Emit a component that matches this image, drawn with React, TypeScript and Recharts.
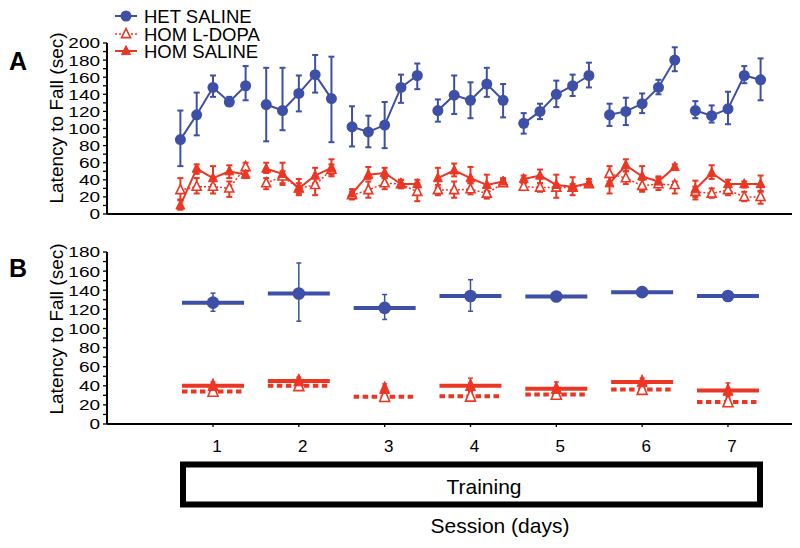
import React from 'react';
import { ComposedChart, Line, XAxis, YAxis, ErrorBar } from 'recharts';

const BLUE = '#3d4fa6';
const RED = '#ec3624';
const FONT = '"Liberation Sans", Arial, Helvetica, sans-serif';

const DAYS = [1, 2, 3, 4, 5, 6, 7];
const TRIALS = [1, 2, 3, 4, 5];
const TRIAL_STEP = 0.19;
const X_DOMAIN = [-0.235, 7.746];

// Panel A: latency per trial, 5 trials for each of the 7 days
const HET_MEAN = [
  87, 116, 148, 131, 150,
  128, 121, 141, 163, 135,
  102, 96, 104, 148, 162,
  121, 139, 133, 152, 133,
  106, 120, 140, 150, 162,
  116, 120, 129, 148, 180,
  121, 115, 123, 162, 157,
];
const HET_LO = [
  56, 92, 137, 127, 133,
  85, 98, 120, 142, 84,
  79, 78, 77, 130, 146,
  108, 117, 112, 137, 113,
  94, 111, 125, 138, 148,
  103, 104, 118, 140, 167,
  112, 107, 105, 153, 133,
];
const HET_HI = [
  121, 142, 162, 137, 173,
  171, 171, 162, 186, 184,
  126, 115, 131, 163, 176,
  134, 162, 154, 171, 152,
  118, 129, 156, 163, 177,
  129, 136, 141, 157, 195,
  132, 127, 143, 173, 182,
];

const SAL_MEAN = [
  10, 53, 42, 50, 46,
  53, 47, 30, 45, 54,
  24, 46, 48, 35, 35,
  42, 51, 42, 34, 38,
  41, 45, 34, 32, 36,
  36, 57, 44, 38, 55,
  29, 48, 35, 35, 35,
];
const SAL_LO = [
  5, 47, 34, 42, 42,
  48, 34, 22, 36, 44,
  17, 41, 42, 32, 32,
  31, 44, 36, 27, 36,
  36, 36, 19, 22, 32,
  24, 50, 28, 33, 52,
  17, 41, 26, 31, 27,
];
const SAL_HI = [
  16, 58, 56, 57, 50,
  60, 60, 41, 54, 64,
  29, 55, 54, 40, 40,
  54, 59, 55, 46, 42,
  45, 52, 46, 43, 41,
  46, 64, 56, 44, 58,
  39, 57, 40, 38, 45,
];

const LDOPA_MEAN = [
  28, 32, 32, 30, 55,
  36, 44, 30, 34, 52,
  22, 28, 36, 35, 26,
  28, 28, 29, 24, 36,
  32, 31, 31, 31, 35,
  47, 42, 33, 35, 34,
  26, 24, 28, 20, 20,
];
const LDOPA_LO = [
  17, 24, 24, 20, 50,
  29, 36, 24, 22, 46,
  18, 19, 29, 30, 15,
  22, 19, 23, 18, 33,
  28, 26, 27, 27, 32,
  38, 35, 26, 28, 24,
  20, 19, 22, 15, 12,
];
const LDOPA_HI = [
  42, 42, 40, 38, 60,
  42, 50, 36, 42, 58,
  26, 38, 42, 40, 36,
  34, 38, 36, 32, 40,
  36, 36, 35, 35, 38,
  56, 50, 40, 42, 38,
  32, 30, 34, 26, 26,
];

// Panel B: mean per day
const DAY_HET = [127, 136.5, 121.5, 134, 133.5, 138, 134];
const DAY_HET_LO = [118, 107.6, 109.4, 118, 133.5, 138, 131];
const DAY_HET_HI = [137, 168.5, 135.5, 151, 133.5, 138, 138];
const DAY_SAL = [40, 45, 37, 40, 37, 44, 35];
const DAY_SAL_LO = [36, 41, 33, 34, 32, 40, 29];
const DAY_SAL_HI = [44, 49, 42, 48, 44, 48, 43];
const DAY_SAL_BAR = [40, 45, null, 40, 37, 44, 35];
const DAY_LDOPA = [34, 40, 28.5, 29, 31, 36, 23];
const DAY_LDOPA_LO = [31, 37, 25, 25, 28, 33, 19];
const DAY_LDOPA_HI = [37, 43, 32, 33, 34, 39, 27];

const A_TICKS = Array.from({ length: 21 }, (_, i) => i * 10);
const B_TICKS = Array.from({ length: 19 }, (_, i) => i * 10);

const err = (m: number, lo: number, hi: number) => [m - lo, hi - m];

const trialRows: any[] = [];
DAYS.forEach((day, d) => {
  TRIALS.forEach((t, i) => {
    const k = d * 5 + i;
    trialRows.push({
      x: day + (t - 3) * TRIAL_STEP,
      het: HET_MEAN[k],
      hetErr: err(HET_MEAN[k], HET_LO[k], HET_HI[k]),
      sal: SAL_MEAN[k],
      salErr: err(SAL_MEAN[k], SAL_LO[k], SAL_HI[k]),
      ldopa: LDOPA_MEAN[k],
      ldopaErr: err(LDOPA_MEAN[k], LDOPA_LO[k], LDOPA_HI[k]),
    });
  });
  if (d < DAYS.length - 1) trialRows.push({ x: day + 0.5, het: null, sal: null, ldopa: null });
});
const trialTicks = trialRows.filter((r) => r.het != null).map((r) => r.x);

const dayRows = DAYS.map((day, i) => ({
  x: day,
  het: DAY_HET[i],
  hetErr: err(DAY_HET[i], DAY_HET_LO[i], DAY_HET_HI[i]),
  sal: DAY_SAL[i],
  salErr: err(DAY_SAL[i], DAY_SAL_LO[i], DAY_SAL_HI[i]),
  salBar: DAY_SAL_BAR[i],
  ldopa: DAY_LDOPA[i],
  ldopaErr: err(DAY_LDOPA[i], DAY_LDOPA_LO[i], DAY_LDOPA_HI[i]),
  ldopaBar: DAY_LDOPA[i],
}));

const ok = (p: any) => p.cx != null && p.cy != null && !isNaN(p.cx) && !isNaN(p.cy);

const circleDot = (r: number) => (p: any) =>
  ok(p) ? <circle key={p.index} cx={p.cx} cy={p.cy} r={r} fill={BLUE} /> : <g key={p.index} />;

const triDot = (w: number, h: number, open: boolean) => (p: any) => {
  if (!ok(p)) return <g key={p.index} />;
  const pts = `${p.cx},${p.cy - h * 0.6} ${p.cx - w / 2},${p.cy + h * 0.4} ${p.cx + w / 2},${p.cy + h * 0.4}`;
  return (
    <polygon
      key={p.index}
      points={pts}
      fill={open ? '#fff' : RED}
      stroke={RED}
      strokeWidth={open ? 1.6 : 1}
    />
  );
};

const hBar = (color: string, dash?: string) => (p: any) =>
  ok(p) ? (
    <line
      key={p.index}
      x1={p.cx - 31}
      x2={p.cx + 31}
      y1={p.cy}
      y2={p.cy}
      stroke={color}
      strokeWidth={4}
      strokeDasharray={dash}
    />
  ) : (
    <g key={p.index} />
  );

function YTick(props: any) {
  const { x, y, payload } = props;
  if (payload.value % 20 !== 0) return <g />;
  return (
    <text
      x={x}
      y={y}
      dy={7}
      textAnchor="end"
      fontSize={19}
      fontFamily={FONT}
      fill="#000"
      transform={`translate(0 ${y}) scale(1 0.78) translate(0 ${-y})`}
    >
      {payload.value}
    </text>
  );
}

const axisLine = { stroke: '#000', strokeWidth: 2 };
const tickLine = { stroke: '#000', strokeWidth: 1.3 };

export default function App() {
  return (
    <div style={{ position: 'absolute', left: 0, top: 0, width: 800, height: 548, background: '#fff', fontFamily: FONT }}>
      <div style={{ position: 'absolute', left: 0, top: 0 }}>
        <ComposedChart width={800} height={235} data={trialRows} margin={{ top: 43, right: 8, left: 0, bottom: 0 }}>
          <XAxis
            type="number"
            dataKey="x"
            domain={X_DOMAIN}
            allowDataOverflow
            ticks={trialTicks}
            interval={0}
            tick={false}
            tickSize={4}
            height={21}
            axisLine={axisLine}
            tickLine={tickLine}
          />
          <YAxis
            type="number"
            domain={[0, 200]}
            ticks={A_TICKS}
            interval={0}
            width={107}
            tick={<YTick />}
            tickSize={4}
            tickMargin={3}
            axisLine={axisLine}
            tickLine={tickLine}
          />
          <Line dataKey="het" stroke={BLUE} strokeWidth={2} dot={circleDot(5.5)} activeDot={false} isAnimationActive={false}>
            <ErrorBar dataKey="hetErr" direction="y" width={3} stroke={BLUE} strokeWidth={2} />
          </Line>
          <Line
            dataKey="ldopa"
            stroke={RED}
            strokeWidth={1.5}
            strokeDasharray="2 2"
            dot={triDot(9, 9, true)}
            activeDot={false}
            isAnimationActive={false}
          >
            <ErrorBar dataKey="ldopaErr" direction="y" width={3} stroke={RED} strokeWidth={2} />
          </Line>
          <Line dataKey="sal" stroke={RED} strokeWidth={2} dot={triDot(9, 9, false)} activeDot={false} isAnimationActive={false}>
            <ErrorBar dataKey="salErr" direction="y" width={3} stroke={RED} strokeWidth={2} />
          </Line>
        </ComposedChart>
      </div>

      <div style={{ position: 'absolute', left: 0, top: 230 }}>
        <ComposedChart width={800} height={230} data={dayRows} margin={{ top: 22, right: 8, left: 0, bottom: 0 }}>
          <XAxis
            type="number"
            dataKey="x"
            domain={X_DOMAIN}
            allowDataOverflow
            ticks={DAYS}
            interval={0}
            tick={{ fill: '#000', fontSize: 17, fontFamily: FONT, dx: 4 }}
            tickSize={3}
            tickMargin={13}
            height={36}
            axisLine={axisLine}
            tickLine={tickLine}
          />
          <YAxis
            type="number"
            domain={[0, 180]}
            ticks={B_TICKS}
            interval={0}
            width={107}
            tick={<YTick />}
            tickSize={4}
            tickMargin={3}
            axisLine={axisLine}
            tickLine={tickLine}
          />
          <Line dataKey="het" stroke="none" dot={hBar(BLUE)} activeDot={false} isAnimationActive={false} />
          <Line dataKey="ldopaBar" stroke="none" dot={hBar(RED, '5.5 3.5')} activeDot={false} isAnimationActive={false} />
          <Line dataKey="salBar" stroke="none" dot={hBar(RED)} activeDot={false} isAnimationActive={false} />
          <Line dataKey="het" stroke="none" dot={circleDot(6.3)} activeDot={false} isAnimationActive={false}>
            <ErrorBar dataKey="hetErr" direction="y" width={2.5} stroke={BLUE} strokeWidth={1.5} />
          </Line>
          <Line dataKey="ldopa" stroke="none" dot={triDot(10, 12, true)} activeDot={false} isAnimationActive={false}>
            <ErrorBar dataKey="ldopaErr" direction="y" width={2.5} stroke={RED} strokeWidth={1.5} />
          </Line>
          <Line dataKey="sal" stroke="none" dot={triDot(10, 12, false)} activeDot={false} isAnimationActive={false}>
            <ErrorBar dataKey="salErr" direction="y" width={2.5} stroke={RED} strokeWidth={1.5} />
          </Line>
        </ComposedChart>
      </div>

      <svg
        width={800}
        height={548}
        style={{ position: 'absolute', left: 0, top: 0, pointerEvents: 'none' }}
        fontFamily={FONT}
      >
        <text x={9} y={70} fontSize={25} fontWeight="bold">A</text>
        <text x={9} y={277} fontSize={25} fontWeight="bold">B</text>
        <text x={56} y={118} fontSize={19} textAnchor="middle" dominantBaseline="central" transform="rotate(-90 56 118)">
          Latency to Fall (sec)
        </text>
        <text x={56} y={329} fontSize={19} textAnchor="middle" dominantBaseline="central" transform="rotate(-90 56 329)">
          Latency to Fall (sec)
        </text>

        <line x1={115} x2={137} y1={16} y2={16} stroke={BLUE} strokeWidth={2} />
        <circle cx={126} cy={16} r={5.5} fill={BLUE} />
        <text x={144} y={23} fontSize={18.5}>HET SALINE</text>

        <line x1={115} x2={137} y1={34} y2={34} stroke={RED} strokeWidth={1.5} strokeDasharray="2 2" />
        <polygon points="126,28.6 121.5,37.6 130.5,37.6" fill="#fff" stroke={RED} strokeWidth={1.6} />
        <text x={144} y={40.5} fontSize={18.5}>HOM L-DOPA</text>

        <line x1={115} x2={137} y1={51} y2={51} stroke={RED} strokeWidth={2} />
        <polygon points="126,45.6 121.5,54.6 130.5,54.6" fill={RED} stroke={RED} />
        <text x={144} y={57.5} fontSize={18.5}>HOM SALINE</text>

        <rect x={183} y={464.5} width={577} height={40} fill="none" stroke="#000" strokeWidth={6} />
        <text x={484} y={494} fontSize={21} textAnchor="middle">Training</text>
        <text x={500} y={533} fontSize={21} textAnchor="middle">Session (days)</text>
      </svg>
    </div>
  );
}
